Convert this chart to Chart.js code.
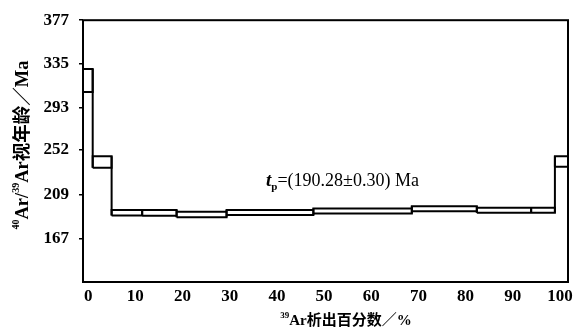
<!DOCTYPE html>
<html>
<head>
<meta charset="utf-8">
<script src="https://cdn.jsdelivr.net/npm/chart.js@4.4.1/dist/chart.umd.min.js"></script>
<style>
  html, body { margin: 0; padding: 0; background: #fff; }
  #wrap { width: 581px; height: 336px; }
</style>
</head>
<body>
<div id="wrap"><canvas id="spectrum" width="581" height="336"></canvas></div>
<script>
// step boundaries (cumulative 39Ar released, %) and the age band of each step (Ma)
const stepEdges = [0, 2.0, 5.9, 12.2, 19.3, 29.6, 47.5, 67.8, 81.2, 92.4, 97.3, 100];
const ageLow  = [308, 235, 189.0, 188.8, 187.3, 189.5, 191.0, 193.1, 191.7, 191.7, 236];
const ageHigh = [330, 246, 194.2, 194.2, 192.6, 194.2, 195.7, 197.8, 196.4, 196.4, 246];
const xTicks = [0, 10, 20, 30, 40, 50, 60, 70, 80, 90, 100];
const yTicks = [167, 209, 252, 293, 335, 377];
const yMin = 125, yMax = 377;
const plateauText = '=(190.28±0.30) Ma';

const SERIF = '"Liberation Serif", "Noto Sans CJK SC", serif';

// closed box for every step, broken with a null point between steps
function buildBoxes() {
  const pts = [];
  for (let i = 0; i < ageLow.length; i++) {
    const x0 = stepEdges[i], x1 = stepEdges[i + 1];
    pts.push({x: x0, y: ageLow[i]}, {x: x0, y: ageHigh[i]}, {x: x1, y: ageHigh[i]},
             {x: x1, y: ageLow[i]}, {x: x0, y: ageLow[i]}, {x: x1, y: null});
  }
  return pts;
}

// vertical joins between neighbouring steps
function buildJoins() {
  const pts = [];
  for (let i = 0; i < ageLow.length - 1; i++) {
    const x = stepEdges[i + 1];
    pts.push({x: x, y: Math.min(ageLow[i], ageLow[i + 1])},
             {x: x, y: Math.max(ageHigh[i], ageHigh[i + 1])},
             {x: x, y: null});
  }
  return pts;
}

function drawPieces(ctx, pieces, x, y) {
  // pieces: [text, font, dy]
  let w = 0;
  pieces.forEach(p => { ctx.font = p[1]; w += ctx.measureText(p[0]).width; });
  let cx = x - w / 2;
  pieces.forEach(p => {
    ctx.font = p[1];
    ctx.fillText(p[0], cx, y + p[2]);
    cx += ctx.measureText(p[0]).width;
  });
}

const decorations = {
  id: 'decorations',
  afterDraw(chart) {
    const ctx = chart.ctx;
    const a = chart.chartArea;
    ctx.save();
    ctx.strokeStyle = '#000';
    ctx.lineWidth = 2;
    ctx.strokeRect(a.left, a.top, a.right - a.left, a.bottom - a.top);

    ctx.fillStyle = '#000';
    ctx.textBaseline = 'alphabetic';
    ctx.textAlign = 'left';

    // plateau age label
    let tx = 266, ty = 186;
    ctx.font = 'italic bold 19px ' + SERIF;
    ctx.fillText('t', tx, ty);
    tx += ctx.measureText('t').width;
    ctx.font = 'bold 11px ' + SERIF;
    ctx.fillText('p', tx, ty + 4);
    tx += ctx.measureText('p').width;
    ctx.font = '18px ' + SERIF;
    ctx.fillText(plateauText, tx, ty);

    // x title
    drawPieces(ctx, [
      ['39', 'bold 9px ' + SERIF, -7],
      ['Ar析出百分数／%', 'bold 15px ' + SERIF, 0]
    ], 346, 325);

    // y title (rotated)
    ctx.translate(22, 145);
    ctx.rotate(-Math.PI / 2);
    drawPieces(ctx, [
      ['40', 'bold 10px ' + SERIF, -9],
      ['Ar/', 'bold 18.5px ' + SERIF, 0],
      ['39', 'bold 10px ' + SERIF, -9],
      ['Ar视年龄／Ma', 'bold 18.5px ' + SERIF, 0]
    ], 0, 6);
    ctx.restore();
  }
};

new Chart(document.getElementById('spectrum'), {
  type: 'scatter',
  data: {
    datasets: [
      { label: 'steps', data: buildBoxes(), showLine: true, spanGaps: false,
        borderColor: '#000', borderWidth: 2, pointRadius: 0, xAxisID: 'x', yAxisID: 'y' },
      { label: 'joins', data: buildJoins(), showLine: true, spanGaps: false,
        borderColor: '#000', borderWidth: 2, pointRadius: 0, xAxisID: 'x', yAxisID: 'y' }
    ]
  },
  options: {
    responsive: false,
    animation: false,
    layout: { padding: { top: 14, right: 13, bottom: 24, left: 0 } },
    plugins: { legend: { display: false }, tooltip: { enabled: false } },
    scales: {
      x: { type: 'linear', min: 0, max: 100, display: false },
      xl: {
        type: 'linear', position: 'bottom', min: -1.1, max: 101.7,
        afterBuildTicks: s => { s.ticks = xTicks.map(v => ({value: v})); },
        afterFit: s => { s.height = 30; },
        grid: { display: false, drawTicks: false },
        border: { display: false },
        ticks: { color: '#000', padding: 4, maxRotation: 0, autoSkip: false,
                 font: { family: SERIF, size: 17, weight: 'bold' } }
      },
      y: {
        type: 'linear', min: yMin, max: yMax,
        afterBuildTicks: s => { s.ticks = yTicks.map(v => ({value: v})); },
        afterFit: s => { s.width = 83; },
        grid: { drawOnChartArea: false, drawTicks: true, tickLength: 4, color: '#000', lineWidth: 1.5 },
        border: { display: false },
        ticks: { color: '#000', padding: 10, autoSkip: false,
                 font: { family: SERIF, size: 17, weight: 'bold' } }
      }
    }
  },
  plugins: [decorations]
});
</script>
</body>
</html>
